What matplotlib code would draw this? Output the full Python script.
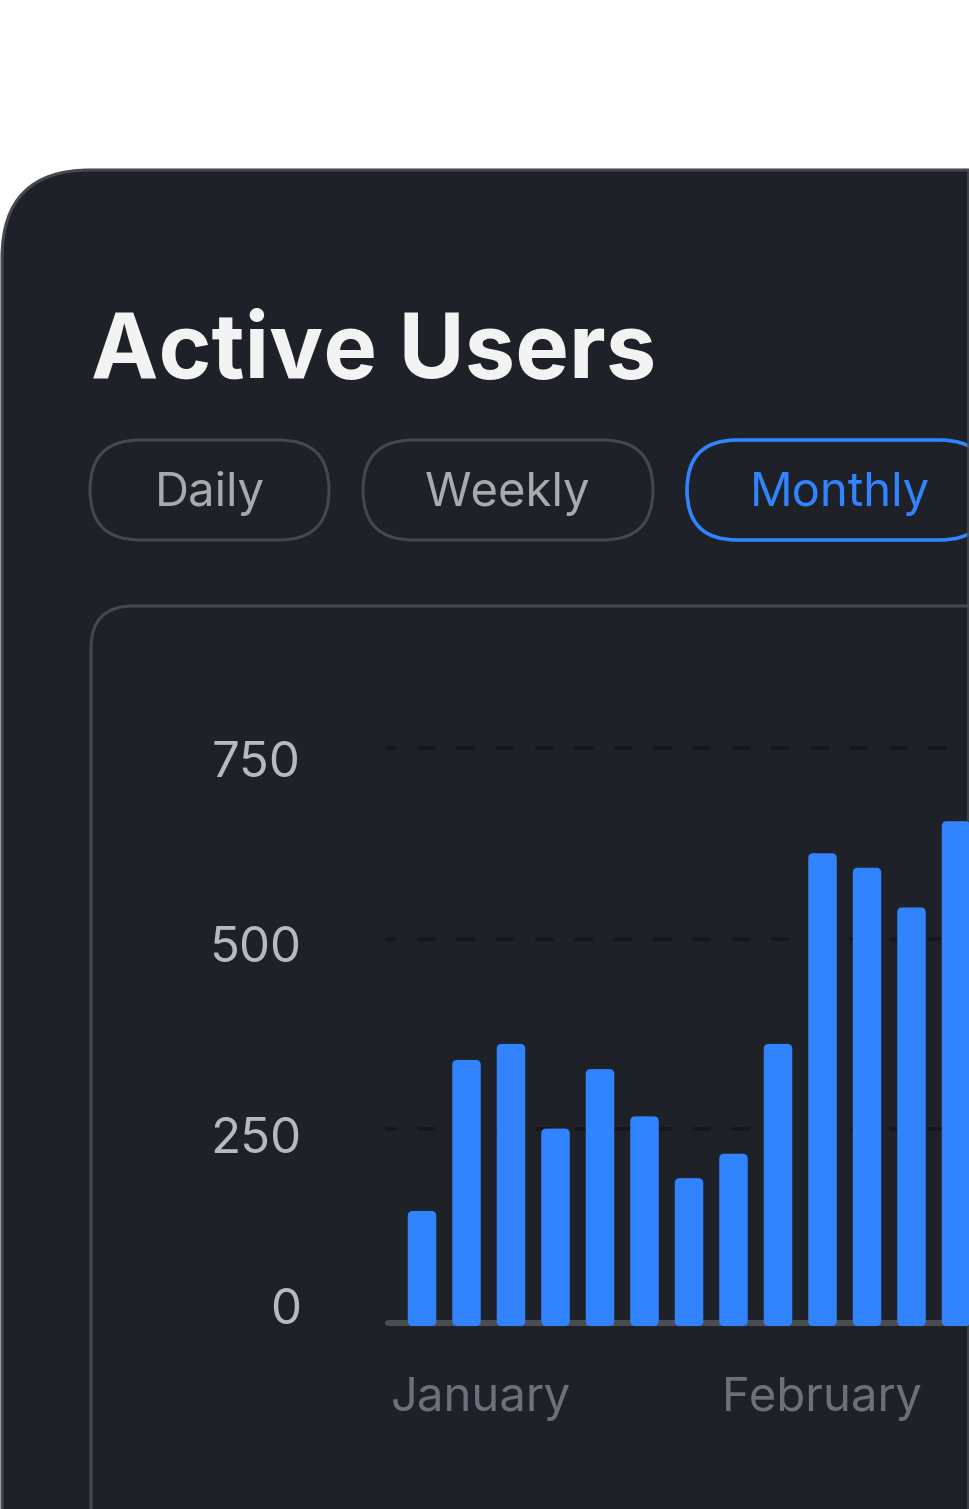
import matplotlib
matplotlib.use("Agg")
import matplotlib.pyplot as plt
from matplotlib.patches import FancyBboxPatch
import numpy as np

plt.rcParams['font.family'] = ['Inter', 'DejaVu Sans']
plt.rcParams['lines.scale_dashes'] = False

# data
users = [143, 341, 362, 251, 329, 267, 186, 218, 362, 612, 593, 541, 654]
yticks = [0, 250, 500, 750]
ytick_labels = ["0", "250", "500", "750"]
months = ["January", "February"]
month_pos = [-0.70, 6.74]   # bar index where each month label starts
periods = ["Daily", "Weekly", "Monthly"]
selected = "Monthly"

BG = "#1f2129"
EDGE = "#46484d"
BLUE = "#3184fd"

W, H = 969, 1509
fig = plt.figure(figsize=(W / 100, H / 100), dpi=100, facecolor="white")

# background layer in pixel coords
bg = fig.add_axes([0, 0, 1, 1])
bg.set_xlim(0, W)
bg.set_ylim(H, 0)
bg.axis("off")

card = FancyBboxPatch((2, 170), 1200, 1600, boxstyle="round,pad=0,rounding_size=88",
                      fc=BG, ec=EDGE, lw=2.2)
bg.add_patch(card)
bg.plot([968, 968], [170, H], color=EDGE, lw=1.2)

bg.text(91, 378, "Active Users", fontsize=65, fontweight="bold", color="#f3f3f3",
        va="baseline", ha="left")

pill_x = [(90, 329), (363, 653), (687, 990)]
for (x0, x1), name in zip(pill_x, periods):
    on = name == selected
    p = FancyBboxPatch((x0, 440), x1 - x0, 100, boxstyle="round,pad=0,rounding_size=50",
                       fc="none", ec=BLUE if on else EDGE, lw=2.6 if on else 2.2)
    bg.add_patch(p)
    cx = 840 if on else (x0 + x1) / 2
    bg.text(cx, 506, name, fontsize=34, color=BLUE if on else "#a9aaad",
            ha="center", va="baseline")

panel = FancyBboxPatch((91, 606), 1200, 1200, boxstyle="round,pad=0,rounding_size=42",
                       fc=BG, ec=EDGE, lw=2.2)
bg.add_patch(panel)

# chart axes: x unit = 44.5 px, y unit = 0.7627 px
px_x = 44.5
px_y = 572 / 750
ax_left, ax_right, ax_top, ax_bot = 385, 969, 700, 1340
ax = fig.add_axes([ax_left / W, 1 - ax_bot / H, (ax_right - ax_left) / W, (ax_bot - ax_top) / H])
ax.set_xlim((ax_left - 422) / px_x, (ax_right - 422) / px_x)
ax.set_ylim((1320 - ax_bot) / px_y, (1320 - ax_top) / px_y)
ax.axis("off")
ax.patch.set_visible(False)

grid_end = (948 - 422) / px_x
for v in yticks[1:]:
    ax.plot([ax.get_xlim()[0], grid_end], [v, v], color="#16171a", lw=2.6,
            linestyle=(5, (13.2, 15.1)), solid_capstyle="butt", dash_capstyle="butt", zorder=1)

ax.plot([(388 - 422) / px_x, 20], [-3.9, -3.9], color="#4a4c52", lw=4.4,
        solid_capstyle="round", zorder=2)

x = np.arange(len(users))
bw = 28.5 / px_x
r = 5 / px_x
bottom = -7.9
for xi, v in zip(x, users):
    b = FancyBboxPatch((xi - bw / 2, bottom), bw, v - bottom,
                       boxstyle=f"round,pad=0,rounding_size={r}",
                       mutation_aspect=(5 / px_y) / r, fc=BLUE, ec="none", zorder=3)
    ax.add_patch(b)

# y tick labels (small per-label nudges as in the picture)
nudge = [4, 24, 23, 29]
for v, lab, dy in zip(yticks, ytick_labels, nudge):
    ax.annotate(lab, xy=(0, v), xycoords=("axes fraction", "data"),
                xytext=(301 - ax_left, -dy), textcoords="offset pixels",
                ha="right", va="baseline", fontsize=35.5, color="#b8b9bc")

for m, pos in zip(months, month_pos):
    ax.annotate(m, xy=(pos, 0), xytext=(0, -91), textcoords="offset pixels",
                ha="left", va="baseline", fontsize=34, color="#6b717b", annotation_clip=False)

fig.savefig("out.png", dpi=100, facecolor="white")
